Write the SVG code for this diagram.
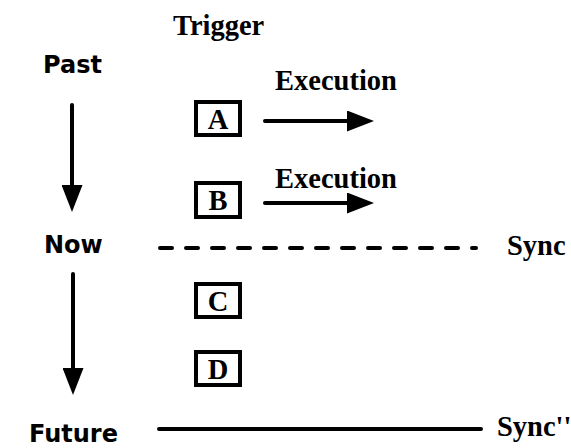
<svg xmlns="http://www.w3.org/2000/svg" width="571" height="448" viewBox="0 0 571 448">
<style>
.t{font-family:"Liberation Serif","Times New Roman",serif;font-weight:bold;font-size:28.5px;fill:#000}
.c{font-family:"Comic Sans MS","DejaVu Sans",sans-serif;font-weight:bold;font-size:24px;fill:#000}
.box{fill:#fff;stroke:#000;stroke-width:4}
.ln{stroke:#000;stroke-width:4;fill:none;stroke-linecap:round}
</style>
<defs>
<marker id="ah" markerUnits="userSpaceOnUse" viewBox="0 0 27 21" refX="2" refY="10.5" markerWidth="27" markerHeight="21" orient="auto">
<path d="M0,0 L27,10.5 L0,21 z" fill="#000"/>
</marker>
</defs>
<rect width="571" height="448" fill="#fff"/>
<g id="labels">
<text class="t" x="173" y="35">Trigger</text>
<text class="c" x="43" y="73">Past</text>
<text class="c" x="44" y="253">Now</text>
<text class="c" x="29" y="442">Future</text>
<text class="t" x="275" y="90">Execution</text>
<text class="t" x="275" y="188">Execution</text>
<text class="t" x="507" y="255" font-size="30">Sync</text>
<text class="t" x="497" y="436" font-size="30">Sync''</text>
</g>
<g id="connectors">
<line class="ln" x1="72" y1="105" x2="72" y2="187" marker-end="url(#ah)"/>
<line class="ln" x1="73" y1="274" x2="73" y2="370" marker-end="url(#ah)"/>
<line class="ln" x1="265" y1="121" x2="349" y2="121" marker-end="url(#ah)"/>
<line class="ln" x1="265" y1="203" x2="349" y2="203" marker-end="url(#ah)"/>
<line class="ln" x1="160" y1="248" x2="476" y2="248" stroke-dasharray="12 14"/>
<line class="ln" x1="159" y1="429" x2="481" y2="429"/>
</g>
<g id="A"><rect class="box" x="196" y="102" width="44" height="33"/><text class="t" x="218" y="129" text-anchor="middle">A</text></g>
<g id="B"><rect class="box" x="196" y="183" width="44" height="34"/><text class="t" x="218" y="210" text-anchor="middle">B</text></g>
<g id="C"><rect class="box" x="196" y="284" width="44" height="33"/><text class="t" x="218" y="311" text-anchor="middle">C</text></g>
<g id="D"><rect class="box" x="196" y="352" width="44" height="33"/><text class="t" x="218" y="379" text-anchor="middle">D</text></g>
</svg>
